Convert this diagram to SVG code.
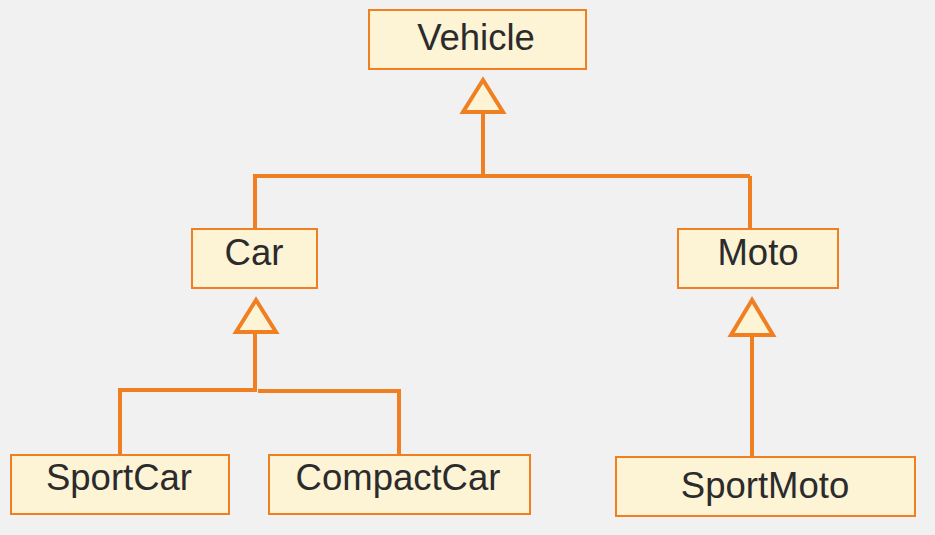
<svg xmlns="http://www.w3.org/2000/svg" width="935" height="535" viewBox="0 0 935 535">
<style>
.box{fill:#fdf3d5;stroke:#f07f22;stroke-width:2}
.lbl{font-family:"Liberation Sans",Arial,sans-serif;font-size:36.5px;fill:#2b2b2b;text-anchor:middle}
.ln{fill:none;stroke:#f07f22;stroke-width:4}
.tri{fill:#fdf3d5;stroke:#f07f22;stroke-width:4;stroke-linejoin:miter}
</style>
<rect width="935" height="535" fill="#f1f1f1"/>
<g id="connectors">
<path class="ln" d="M483,113 V176 M253,176 H750 M255,176 V229 M750,176 V229"/>
<polygon class="tri" points="483,80 463,112 503,112"/>
<path class="ln" d="M255,333 V390 H120 V455 M258,391 H399 V455"/>
<polygon class="tri" points="256,300 236,332 276,332"/>
<path class="ln" d="M752,336 V457"/>
<polygon class="tri" points="752,300 731,335 773,335"/>
</g>
<g id="vehicle"><rect class="box" x="369" y="10" width="217" height="59"/><text class="lbl" x="476" y="50">Vehicle</text></g>
<g id="car"><rect class="box" x="192" y="229" width="125" height="59"/><text class="lbl" x="254" y="265">Car</text></g>
<g id="moto"><rect class="box" x="678" y="229" width="160" height="59"/><text class="lbl" x="758" y="265">Moto</text></g>
<g id="sportcar"><rect class="box" x="11" y="455" width="218" height="59"/><text class="lbl" x="119" y="490">SportCar</text></g>
<g id="compactcar"><rect class="box" x="269" y="455" width="261" height="59"/><text class="lbl" x="398" y="490">CompactCar</text></g>
<g id="sportmoto"><rect class="box" x="616" y="457" width="299" height="59"/><text class="lbl" x="765" y="498">SportMoto</text></g>
</svg>
